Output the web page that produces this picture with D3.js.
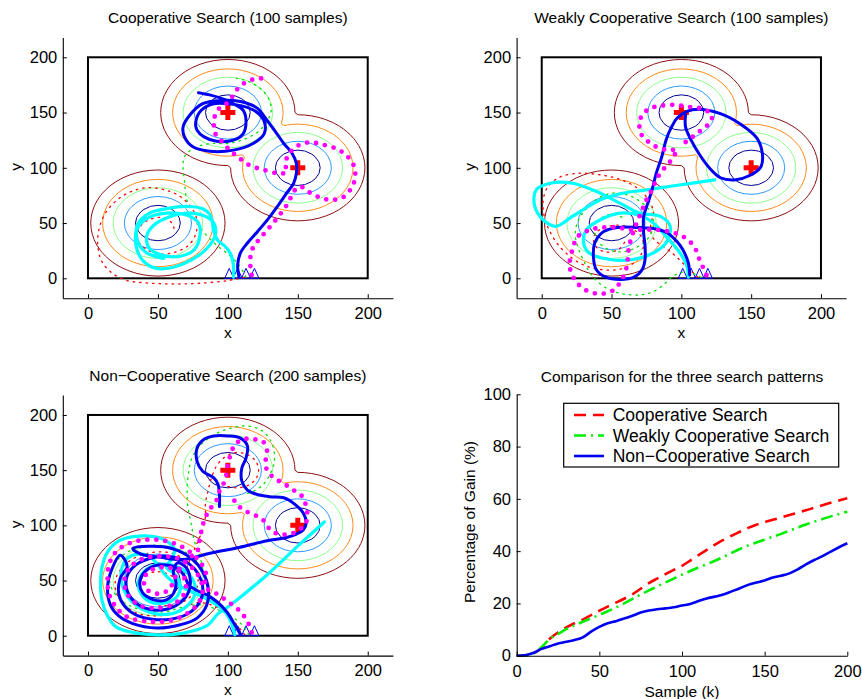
<!DOCTYPE html>
<html>
<head>
<meta charset="utf-8">
<script src="https://cdn.jsdelivr.net/npm/d3@7"></script>
<style>
  body { margin: 0; background: #fff; }
  text { font-family: "Liberation Sans", Arial, Helvetica, sans-serif; fill: #000; }
</style>
</head>
<body>
<svg id="chart" width="862" height="699"></svg>
<script>
// ---- Data ----
const peaks = [[100, 150], [150, 100], [50, 50]];
const targets = [[100, 150], [150, 100]];
const startX = [101, 107, 113, 119];
const contourRadii = [16, 24, 32, 39.5, 48];
const contourColors = ["#000090", "#2c9bff", "#8cff8c", "#ff8c1a", "#8c0f0f"];
const axisTicks = [0, 50, 100, 150, 200];

// Cooperative search trajectories
const coopBlue = [[108,1],[107,12],[109,23],[114,32],[121,42],[129,54],[136,66],[142,77],[147,86],[149,95],[149,104],[146,113],[140,122],[135,131],[128,143],[121,154],[109,160],[94,161],[82,158],[73,148],[68,137],[69,128],[75,119],[87,115],[104,116],[118,122],[126,131],[126,142],[120,151],[110,156],[100,158],[90,158],[81,152],[77,141],[78,134],[83,128],[92,124],[104,125],[111,131],[113,142],[111,152],[104,158],[95,163],[87,166],[79,168]];
const coopCyan = [[104,1],[104,12],[102,22],[98,29],[93,34],[90,42],[89,50],[87,58],[82,63],[71,65],[56,63],[44,59],[36,50],[34,38],[35,26],[40,15],[49,9],[61,10],[73,16],[85,27],[91,39],[90,50],[84,56],[73,59],[59,56],[47,48],[42,38],[44,27],[53,21],[66,20],[76,26],[80,38],[79,50],[71,57],[56,59],[42,54],[35,44],[36,32],[42,23],[54,18]];
const coopMagenta = [[117,3],[116,14],[117,25],[121,33],[127,42],[133,51],[138,59],[142,66],[145,73],[148,80],[152,83],[158,78],[166,73],[174,71],[182,73],[188,81],[191,91],[190,102],[185,111],[178,117],[168,121],[158,123],[150,120],[144,113],[141,104],[142,96],[136,95],[126,98],[116,102],[109,108],[104,113],[99,119],[95,125],[91,131],[90,140],[91,148],[94,154],[99,158],[103,164],[106,170],[111,176],[118,180],[125,181],[130,181]];
const coopRed = [[112,1],[100,-2],[85,-4],[70,-5],[55,-5],[40,-4],[28,-2],[18,4],[10,15],[7,30],[8,45],[12,58],[20,70],[30,78],[42,82],[55,80],[66,74],[74,64],[78,52],[77,40],[72,30],[63,24],[52,22],[42,26],[36,34],[36,44],[42,52],[52,55],[60,50],[62,42]];
const coopGreen = [[113,1],[108,12],[100,22],[92,30],[84,40],[78,50],[73,62],[70,75],[69,88],[68,100],[69,110],[76,118],[88,122],[100,122],[112,126],[122,133],[128,142],[131,152],[129,163],[123,172],[115,178],[106,181]];

// Weakly cooperative search trajectories
const weakBlue = [[106,3],[105,14],[101,26],[97,33],[90,41],[80,45],[68,46],[54,46],[44,42],[38,32],[37,20],[39,8],[46,1],[56,-1],[66,1],[72,8],[74,17],[74,29],[73,41],[73,56],[76,68],[79,80],[82,95],[86,110],[89,125],[93,137],[97,145],[104,151],[112,153],[128,149],[143,139],[154,127],[158,113],[157,101],[149,93],[138,89],[128,91],[120,100],[113,112],[107,125],[103,137],[103,148]];
const weakCyan = [[105,1],[104,11],[99,23],[89,38],[80,50],[70,57],[56,59],[42,53],[32,44],[30,32],[34,23],[49,17],[65,17],[80,23],[89,32],[92,47],[85,56],[70,59],[56,68],[42,77],[22,86],[6,86],[-4,80],[-5,65],[1,53],[10,47],[22,56],[42,71],[58,77],[75,80],[96,84],[124,89]];
const weakMagenta = [[118,3],[113,17],[109,29],[101,38],[92,42],[82,44],[73,44],[63,44],[54,46],[44,46],[35,44],[26,38],[22,26],[20,11],[24,-2],[32,-11],[42,-14],[51,-11],[57,-2],[61,11],[62,24],[64,36],[68,50],[72,62],[75,71],[79,80],[82,89],[86,97],[91,104],[94,110],[97,116],[90,116],[82,119],[76,124],[71,131],[70,140],[72,148],[78,154],[85,156],[94,157],[106,155],[116,153],[122,147],[119,139],[112,132],[105,125],[99,120]];
const weakRed = [[112,1],[104,10],[96,20],[88,28],[80,36],[78,48],[80,60],[76,72],[68,82],[55,90],[40,94],[25,95],[12,91],[4,82],[1,70],[2,55],[6,42],[12,30],[20,20],[30,12],[42,8],[55,8],[66,14],[72,24],[72,36],[66,44],[56,48],[45,46],[38,40],[38,30],[45,24],[55,26],[60,34]];
const weakGreen = [[114,1],[104,6],[94,2],[88,-5],[80,-12],[70,-15],[58,-14],[48,-10],[40,-3],[34,6],[30,16],[26,28],[24,40],[26,52],[32,63],[40,72],[50,77],[60,76],[70,70],[78,60],[80,48],[76,36],[68,28],[58,24],[48,26],[40,34],[38,44],[42,54],[50,58],[58,55]];

// Non-cooperative search trajectories
const nonBlue = [[109,1],[105,10],[99,22],[92,31],[85,37],[78,41],[72,46],[69,54],[64,61],[56,64],[47,63],[40,57],[37,48],[39,39],[46,33],[55,32],[61,38],[63,48],[61,58],[64,66],[70,62],[73,52],[72,40],[66,30],[56,24],[44,24],[34,30],[28,41],[28,54],[34,64],[44,70],[56,72],[67,69],[76,61],[81,50],[82,38],[78,27],[70,19],[59,15],[46,15],[34,19],[26,27],[22,38],[23,52],[28,63],[23,73],[17,60],[14,44],[16,28],[22,18],[32,11],[49,7],[66,10],[78,16],[85,28],[86,43],[82,58],[74,70],[60,79],[44,81],[32,79],[38,74],[52,71],[68,69],[88,75],[108,80],[128,86],[142,89],[149,92],[154,96],[156,102],[154,111],[148,119],[140,125],[130,126],[121,128],[114,132],[110,140],[110,152],[113,161],[114,172],[109,179],[100,181],[90,181],[83,178],[78,170],[78,158],[82,149],[90,143],[93,137],[94,128],[94,117]];
const nonCyan = [[105,1],[103,10],[99,20],[92,28],[84,34],[74,40],[64,46],[56,54],[50,64],[44,72],[36,74],[28,70],[24,60],[24,48],[28,36],[36,26],[48,20],[60,20],[70,26],[76,36],[76,48],[70,58],[60,64],[48,64],[40,58],[36,48],[38,38],[46,30],[56,30],[64,36],[66,46],[62,56],[56,62],[60,70],[62,78],[56,86],[46,90],[34,90],[22,86],[14,76],[10,62],[9,46],[10,32],[14,18],[20,8],[32,3],[46,1],[60,1],[74,4],[86,10],[93,20],[99,25],[108,34],[128,55],[149,80],[169,103]];
const nonMagenta = [[117,3],[114,13],[108,23],[100,31],[92,38],[84,44],[84,58],[78,70],[68,80],[55,86],[42,87],[30,84],[20,76],[15,64],[14,50],[15,38],[20,26],[28,17],[42,13],[56,13],[68,18],[78,28],[82,40],[80,52],[74,62],[64,70],[52,72],[40,70],[30,62],[26,50],[28,38],[36,28],[48,25],[60,28],[68,36],[70,48],[66,58],[56,62],[46,60],[40,52],[42,42],[50,38],[58,42],[62,52],[66,62],[72,70],[78,76],[80,88],[82,100],[85,110],[88,116],[92,123],[94,131],[97,138],[99,146],[100,155],[102,164],[105,173],[111,178],[118,178],[125,176],[128,168],[127,158],[128,150],[133,143],[141,137],[148,131],[154,125],[156,116],[157,107],[155,101],[150,95],[144,92],[137,92],[131,95],[125,105],[118,110],[111,114],[106,120],[102,128]];
const nonRed = [[112,1],[105,12],[97,22],[88,28],[78,30],[70,26],[60,20],[48,18],[36,20],[26,28],[20,40],[20,52],[26,64],[36,72],[50,76],[62,74],[72,66],[78,56],[78,44],[72,34],[62,28],[50,28],[40,34],[36,44],[40,54],[50,58],[60,54],[66,46],[70,60],[74,72],[78,84],[82,96],[84,108],[84,120],[86,132],[88,142],[92,154],[98,162],[106,166],[114,164],[120,158],[122,150],[120,142],[114,136],[106,134],[98,136]];
const nonGreen = [[115,1],[110,10],[102,18],[92,24],[80,28],[68,26],[56,22],[44,22],[32,26],[22,34],[16,46],[16,58],[22,70],[32,78],[46,82],[60,80],[72,74],[80,64],[82,60],[80,72],[76,86],[74,100],[72,112],[71,124],[71,136],[72,148],[74,160],[80,172],[90,182],[102,188],[114,190],[124,186],[130,178],[133,168],[133,156],[130,146],[126,138],[120,132],[112,128]];

// Gain comparison
const sampleK = [0,5,10,15,20,25,30,35,40,45,50,55,60,65,70,75,80,85,90,95,100,105,110,115,120,125,130,135,140,145,150,155,160,165,170,175,180,185,190,195,200];
const gainCoop = [0,0.1,0.8,3,6.5,8.9,10.8,12.4,13.8,15.5,17.2,18.8,20.3,21.8,23.5,25.6,27.8,29.5,31.2,32.8,34.4,36.4,38.5,40.5,42.5,44.3,45.9,47.4,48.9,50.1,51.1,52,52.9,53.8,54.7,55.6,56.6,57.6,58.5,59.4,60.2];
const gainWeak = [0,0.1,0.8,3.2,6.4,8.3,10.2,11.6,13,14.3,15.6,17,18.4,20,21.7,23.4,25,26.5,28,29.5,31,32.4,33.8,35,36.3,37.8,39.3,40.8,42.2,43.3,44.4,45.5,46.6,47.8,49,50.2,51.3,52.3,53.3,54.2,55.1];
const gainNon = [0,0.2,1,2.6,3.6,4.7,5.3,6,7,9.2,11,12.4,13.2,14.2,15.3,16.5,17.3,17.8,18.1,18.5,19.2,19.8,20.9,21.9,22.6,23.4,24.6,25.8,27.1,28,28.8,29.9,30.6,31.5,33,34.9,36.6,38.1,39.8,41.5,43];
const seriesNames = ["Cooperative Search", "Weakly Cooperative Search", "Non\u2212Cooperative Search"];

// ---- Drawing ----
const svg = d3.select("#chart");

const trailStyles = [
  { key: "red", color: "#ff0000", width: 1.3, dash: "1.5 5" },
  { key: "green", color: "#00e000", width: 1.3, dash: "1.5 5" },
  { key: "cyan", color: "#00ffff", width: 3.2, dash: null },
  { key: "blue", color: "#0000f0", width: 3, dash: null },
  { key: "magenta", color: "#ff00ff", width: 4.8, dash: "0 9" },
];

const panels = [
  { title: "Cooperative Search (100 samples)", xr: [62.8, 392.9], yr: [298.2, 37.4],
    trails: { red: coopRed, green: coopGreen, cyan: coopCyan, blue: coopBlue, magenta: coopMagenta } },
  { title: "Weakly Cooperative Search (100 samples)", xr: [516.6, 846.1], yr: [298.2, 37.4],
    trails: { red: weakRed, green: weakGreen, cyan: weakCyan, blue: weakBlue, magenta: weakMagenta } },
  { title: "Non\u2212Cooperative Search (200 samples)", xr: [62.8, 392.9], yr: [655.6, 395.1],
    trails: { red: nonRed, green: nonGreen, cyan: nonCyan, blue: nonBlue, magenta: nonMagenta } },
];

// contour field: distance to the nearest peak on a grid
const gridMin = -30, gridStep = 5, gridN = 53;
const field = [];
for (let j = 0; j < gridN; j++) {
  for (let i = 0; i < gridN; i++) {
    const gx = gridMin + i * gridStep, gy = gridMin + j * gridStep;
    field.push(-d3.min(peaks, p => Math.hypot(gx - p[0], gy - p[1])));
  }
}
const contourSet = d3.contours()
  .size([gridN, gridN])
  .thresholds(contourRadii.map(r => -r))(field);

function styleAxis(g) {
  g.select(".domain").attr("stroke", "#000").attr("stroke-width", 1.1);
  g.selectAll(".tick line").attr("stroke", "#000").attr("stroke-width", 1);
  g.selectAll(".tick text").style("font-size", "16.5px");
}

panels.forEach(p => {
  const xs = d3.scaleLinear().domain([-18, 218]).range(p.xr);
  const ys = d3.scaleLinear().domain([-18, 218]).range(p.yr);
  const g = svg.append("g");

  // contours
  const ringLine = d3.line()
    .x(d => xs(gridMin + (d[0] - 0.5) * gridStep))
    .y(d => ys(gridMin + (d[1] - 0.5) * gridStep));
  contourSet.forEach(c => {
    const color = contourColors[contourRadii.indexOf(-c.value)];
    c.coordinates.forEach(poly => poly.forEach(ring => {
      g.append("path")
        .attr("d", ringLine(ring) + "Z")
        .attr("fill", "none")
        .attr("stroke", color)
        .attr("stroke-width", 1);
    }));
  });

  // search region
  g.append("rect")
    .attr("x", xs(0)).attr("y", ys(200))
    .attr("width", xs(200) - xs(0)).attr("height", ys(0) - ys(200))
    .attr("fill", "none").attr("stroke", "#000").attr("stroke-width", 2);

  // targets
  g.selectAll(".target").data(targets).join("path")
    .attr("transform", d => `translate(${xs(d[0])},${ys(d[1])})`)
    .attr("d", d3.symbol().type(d3.symbolCross).size(125))
    .attr("fill", "#ff0000");

  // start markers
  g.selectAll(".start").data(startX).join("path")
    .attr("d", d => `M${xs(d) - 4.5},${ys(0)}L${xs(d)},${ys(0) - 10}L${xs(d) + 4.5},${ys(0)}Z`)
    .attr("fill", "none").attr("stroke", "#0000ff").attr("stroke-width", 1);

  // trajectories
  const trail = d3.line()
    .x(d => xs(d[0])).y(d => ys(d[1]))
    .curve(d3.curveCatmullRom.alpha(0.5));
  trailStyles.forEach(s => {
    g.append("path")
      .attr("d", trail(p.trails[s.key]))
      .attr("fill", "none")
      .attr("stroke", s.color)
      .attr("stroke-width", s.width)
      .attr("stroke-linecap", "round")
      .attr("stroke-linejoin", "round")
      .attr("stroke-dasharray", s.dash);
  });

  // axes
  g.append("g")
    .attr("transform", `translate(0,${p.yr[0]})`)
    .call(d3.axisBottom(xs).tickValues(axisTicks).tickSizeInner(-4).tickSizeOuter(0).tickPadding(9))
    .call(styleAxis);
  g.append("g")
    .attr("transform", `translate(${p.xr[0]},0)`)
    .call(d3.axisLeft(ys).tickValues(axisTicks).tickSizeInner(-4).tickSizeOuter(0).tickPadding(5.5))
    .call(styleAxis);

  const cx = (p.xr[0] + p.xr[1]) / 2;
  g.append("text").attr("x", cx).attr("y", p.yr[1] - 14.5)
    .attr("text-anchor", "middle").style("font-size", "15.5px").text(p.title);
  g.append("text").attr("x", cx).attr("y", p.yr[0] + 39.5)
    .attr("text-anchor", "middle").style("font-size", "15.5px").text("x");
  g.append("text")
    .attr("transform", `translate(${p.xr[0] - 42},${(p.yr[0] + p.yr[1]) / 2 - 1}) rotate(-90)`)
    .attr("text-anchor", "middle").style("font-size", "15.5px").text("y");
});

// ---- Comparison panel ----
const cmp = { xr: [516.7, 847.3], yr: [655.7, 394.3] };
const xk = d3.scaleLinear().domain([0, 200]).range(cmp.xr);
const yg = d3.scaleLinear().domain([0, 100]).range(cmp.yr);
const gc = svg.append("g");

const gainStyles = [
  { values: gainCoop, color: "#ff0000", dash: "12 7" },
  { values: gainWeak, color: "#00ee00", dash: "12 5 2 5" },
  { values: gainNon, color: "#0000f0", dash: null },
];
const gainLine = d3.line()
  .x((d, i) => xk(sampleK[i])).y(d => yg(d))
  .curve(d3.curveMonotoneX);
gainStyles.forEach(s => {
  gc.append("path")
    .attr("d", gainLine(s.values))
    .attr("fill", "none")
    .attr("stroke", s.color)
    .attr("stroke-width", 2.6)
    .attr("stroke-dasharray", s.dash);
});

gc.append("g")
  .attr("transform", `translate(0,${cmp.yr[0]})`)
  .call(d3.axisBottom(xk).tickValues(axisTicks).tickSizeInner(-4).tickSizeOuter(0).tickPadding(10))
  .call(styleAxis);
gc.append("g")
  .attr("transform", `translate(${cmp.xr[0]},0)`)
  .call(d3.axisLeft(yg).tickValues([0, 20, 40, 60, 80, 100]).tickSizeInner(-4).tickSizeOuter(0).tickPadding(5.7))
  .call(styleAxis);

gc.append("text").attr("x", 682).attr("y", 381.5)
  .attr("text-anchor", "middle").style("font-size", "15.5px")
  .text("Comparison for the three search patterns");
gc.append("text").attr("x", 682).attr("y", 697)
  .attr("text-anchor", "middle").style("font-size", "15.5px").text("Sample (k)");
gc.append("text")
  .attr("transform", `translate(474.5,522) rotate(-90)`)
  .attr("text-anchor", "middle").style("font-size", "15.5px").text("Percentage of Gain (%)");

// legend
const legend = gc.append("g");
legend.append("rect")
  .attr("x", 563.7).attr("y", 403.3).attr("width", 275).attr("height", 63.7)
  .attr("fill", "#fff").attr("stroke", "#000").attr("stroke-width", 1.2);
const rowY = [415, 435.5, 456];
gainStyles.forEach((s, i) => {
  legend.append("line")
    .attr("x1", 574).attr("x2", 604).attr("y1", rowY[i]).attr("y2", rowY[i])
    .attr("stroke", s.color).attr("stroke-width", 2.6)
    .attr("stroke-dasharray", s.dash);
  legend.append("text")
    .attr("x", 612.7).attr("y", rowY[i]).attr("dy", "0.36em")
    .style("font-size", "17.5px").text(seriesNames[i]);
});
</script>
</body>
</html>
